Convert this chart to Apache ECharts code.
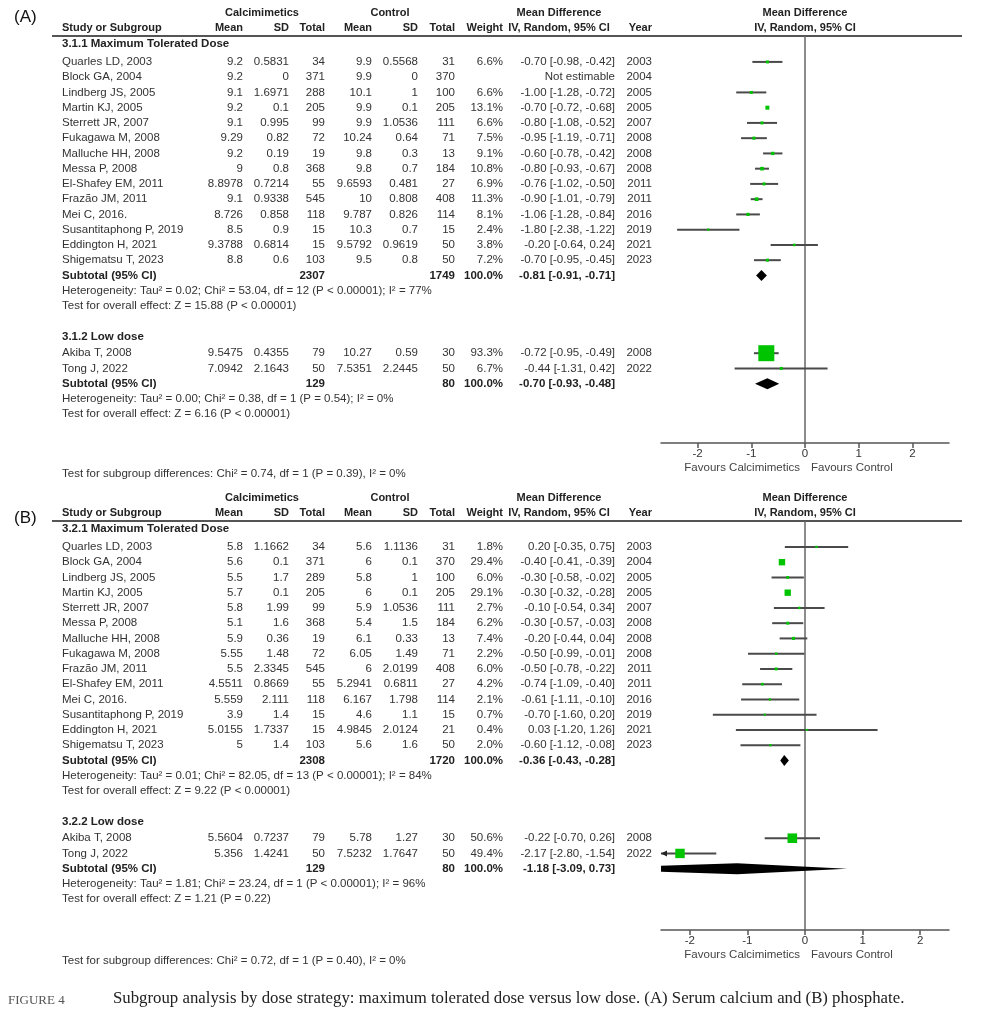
<!DOCTYPE html>
<html><head><meta charset="utf-8">
<script src="https://cdn.jsdelivr.net/npm/echarts@6/dist/echarts.min.js"></script>
<style>html,body{margin:0;padding:0;background:#fff}#c{width:985px;height:1024px}</style>
</head><body><div id="c"></div>
<script>
// ===== Panel A: serum calcium =====
const studyA = ['Quarles LD, 2003','Block GA, 2004','Lindberg JS, 2005','Martin KJ, 2005','Sterrett JR, 2007','Fukagawa M, 2008','Malluche HH, 2008','Messa P, 2008','El-Shafey EM, 2011','Frazão JM, 2011','Mei C, 2016.','Susantitaphong P, 2019','Eddington H, 2021','Shigematsu T, 2023','Akiba T, 2008','Tong J, 2022'];
const groupA = [0,0,0,0,0,0,0,0,0,0,0,0,0,0,1,1];
const calcMeanA = [9.2,9.2,9.1,9.2,9.1,9.29,9.2,9,8.8978,9.1,8.726,8.5,9.3788,8.8,9.5475,7.0942];
const calcSdA = [0.5831,0,1.6971,0.1,0.995,0.82,0.19,0.8,0.7214,0.9338,0.858,0.9,0.6814,0.6,0.4355,2.1643];
const calcNA = [34,371,288,205,99,72,19,368,55,545,118,15,15,103,79,50];
const ctrlMeanA = [9.9,9.9,10.1,9.9,9.9,10.24,9.8,9.8,9.6593,10,9.787,10.3,9.5792,9.5,10.27,7.5351];
const ctrlSdA = [0.5568,0,1,0.1,1.0536,0.64,0.3,0.7,0.481,0.808,0.826,0.7,0.9619,0.8,0.59,2.2445];
const ctrlNA = [31,370,100,205,111,71,13,184,27,408,114,15,50,50,30,50];
const weightA = [6.6,null,6.6,13.1,6.6,7.5,9.1,10.8,6.9,11.3,8.1,2.4,3.8,7.2,93.3,6.7];
const mdA = [-0.70,null,-1.00,-0.70,-0.80,-0.95,-0.60,-0.80,-0.76,-0.90,-1.06,-1.80,-0.20,-0.70,-0.72,-0.44];
const ciLowA = [-0.98,null,-1.28,-0.72,-1.08,-1.19,-0.78,-0.93,-1.02,-1.01,-1.28,-2.38,-0.64,-0.95,-0.95,-1.31];
const ciHighA = [-0.42,null,-0.72,-0.68,-0.52,-0.71,-0.42,-0.67,-0.50,-0.79,-0.84,-1.22,0.24,-0.45,-0.49,0.42];
const yearA = [2003,2004,2005,2005,2007,2008,2008,2008,2011,2011,2016,2019,2021,2023,2008,2022];
const groupTitleA = ['3.1.1 Maximum Tolerated Dose','3.1.2 Low dose'];
const subCalcNA = [2307,129];
const subCtrlNA = [1749,80];
const subMdA = [-0.81,-0.70];
const subLowA = [-0.91,-0.93];
const subHighA = [-0.71,-0.48];
const heteroA = ['Heterogeneity: Tau² = 0.02; Chi² = 53.04, df = 12 (P < 0.00001); I² = 77%','Heterogeneity: Tau² = 0.00; Chi² = 0.38, df = 1 (P = 0.54); I² = 0%'];
const effectA = ['Test for overall effect: Z = 15.88 (P < 0.00001)','Test for overall effect: Z = 6.16 (P < 0.00001)'];
const diffA = 'Test for subgroup differences: Chi² = 0.74, df = 1 (P = 0.39), I² = 0%';

// ===== Panel B: phosphate =====
const studyB = ['Quarles LD, 2003','Block GA, 2004','Lindberg JS, 2005','Martin KJ, 2005','Sterrett JR, 2007','Messa P, 2008','Malluche HH, 2008','Fukagawa M, 2008','Frazão JM, 2011','El-Shafey EM, 2011','Mei C, 2016.','Susantitaphong P, 2019','Eddington H, 2021','Shigematsu T, 2023','Akiba T, 2008','Tong J, 2022'];
const groupB = [0,0,0,0,0,0,0,0,0,0,0,0,0,0,1,1];
const calcMeanB = [5.8,5.6,5.5,5.7,5.8,5.1,5.9,5.55,5.5,4.5511,5.559,3.9,5.0155,5,5.5604,5.356];
const calcSdB = [1.1662,0.1,1.7,0.1,1.99,1.6,0.36,1.48,2.3345,0.8669,2.111,1.4,1.7337,1.4,0.7237,1.4241];
const calcNB = [34,371,289,205,99,368,19,72,545,55,118,15,15,103,79,50];
const ctrlMeanB = [5.6,6,5.8,6,5.9,5.4,6.1,6.05,6,5.2941,6.167,4.6,4.9845,5.6,5.78,7.5232];
const ctrlSdB = [1.1136,0.1,1,0.1,1.0536,1.5,0.33,1.49,2.0199,0.6811,1.798,1.1,2.0124,1.6,1.27,1.7647];
const ctrlNB = [31,370,100,205,111,184,13,71,408,27,114,15,21,50,30,50];
const weightB = [1.8,29.4,6.0,29.1,2.7,6.2,7.4,2.2,6.0,4.2,2.1,0.7,0.4,2.0,50.6,49.4];
const mdB = [0.20,-0.40,-0.30,-0.30,-0.10,-0.30,-0.20,-0.50,-0.50,-0.74,-0.61,-0.70,0.03,-0.60,-0.22,-2.17];
const ciLowB = [-0.35,-0.41,-0.58,-0.32,-0.54,-0.57,-0.44,-0.99,-0.78,-1.09,-1.11,-1.60,-1.20,-1.12,-0.70,-2.80];
const ciHighB = [0.75,-0.39,-0.02,-0.28,0.34,-0.03,0.04,-0.01,-0.22,-0.40,-0.10,0.20,1.26,-0.08,0.26,-1.54];
const yearB = [2003,2004,2005,2005,2007,2008,2008,2008,2011,2011,2016,2019,2021,2023,2008,2022];
const groupTitleB = ['3.2.1 Maximum Tolerated Dose','3.2.2 Low dose'];
const subCalcNB = [2308,129];
const subCtrlNB = [1720,80];
const subMdB = [-0.36,-1.18];
const subLowB = [-0.43,-3.09];
const subHighB = [-0.28,0.73];
const heteroB = ['Heterogeneity: Tau² = 0.01; Chi² = 82.05, df = 13 (P < 0.00001); I² = 84%','Heterogeneity: Tau² = 1.81; Chi² = 23.24, df = 1 (P < 0.00001); I² = 96%'];
const effectB = ['Test for overall effect: Z = 9.22 (P < 0.00001)','Test for overall effect: Z = 1.21 (P = 0.22)'];
const diffB = 'Test for subgroup differences: Chi² = 0.72, df = 1 (P = 0.40), I² = 0%';

const xTicks = [-2,-1,0,1,2];
const headerTop = ['Calcimimetics','Control','Mean Difference','Mean Difference'];
const headerSub = ['Study or Subgroup','Mean','SD','Total','Mean','SD','Total','Weight','IV, Random, 95% CI','Year','IV, Random, 95% CI'];
const favours = ['Favours Calcimimetics','Favours Control'];
const panelLabels = ['(A)','(B)'];
const captionHead = 'FIGURE 4';
const captionText = 'Subgroup analysis by dose strategy: maximum tolerated dose versus low dose. (A) Serum calcium and (B) phosphate.';

// ===== layout =====
const ROW = 15.25;
const FONT = '"Liberation Sans", Arial, sans-serif';
const COL = {name:62, cMean:243, cSd:289, cN:325, kMean:372, kSd:418, kN:455, w:503, ci:615, year:652};
const HC = {calc:262, ctrl:390, md:559};
const GREEN = '#00c400', TXT = '#333', BOLD = '#222', LINE = '#4a4a4a';

const panels = [
  {label:panelLabels[0], labelDy:-1.2, top:36, height:407, xr:2.68,
   study:studyA, group:groupA, cMean:calcMeanA, cSd:calcSdA, cN:calcNA, kMean:ctrlMeanA, kSd:ctrlSdA, kN:ctrlNA,
   w:weightA, md:mdA, lo:ciLowA, hi:ciHighA, year:yearA, titles:groupTitleA, sCN:subCalcNA, sKN:subCtrlNA,
   sMd:subMdA, sLo:subLowA, sHi:subHighA, het:heteroA, eff:effectA, diff:diffA},
  {label:panelLabels[1], labelDy:-0.2, top:521, height:409, xr:2.5,
   study:studyB, group:groupB, cMean:calcMeanB, cSd:calcSdB, cN:calcNB, kMean:ctrlMeanB, kSd:ctrlSdB, kN:ctrlNB,
   w:weightB, md:mdB, lo:ciLowB, hi:ciHighB, year:yearB, titles:groupTitleB, sCN:subCalcNB, sKN:subCtrlNB,
   sMd:subMdB, sLo:subLowB, sHi:subHighB, het:heteroB, eff:effectB, diff:diffB}
];

function buildRows(P) {
  const rows = [{kind:'frame', y:0}, {kind:'header', y:0}];
  let y = 0.5;
  P.titles.forEach((t, gi) => {
    if (gi > 0) y += 2.05;
    rows.push({kind:'title', y, text:t});
    y += gi === 0 ? 1.2 : 1.05;
    P.study.forEach((s, i) => { if (P.group[i] === gi) { rows.push({kind:'study', y, i}); y += 1; } });
    rows.push({kind:'subtotal', y, gi}); y += 1;
    rows.push({kind:'note', y, text:P.het[gi]}); y += 1;
    rows.push({kind:'note', y, text:P.eff[gi]});
  });
  rows.push({kind:'footer', y:0});
  return rows;
}

const f2 = v => v.toFixed(2);
const ciStr = (m, l, h) => f2(m) + ' [' + f2(l) + ', ' + f2(h) + ']';

function makeRender(P, rows) {
  const ymax = P.height / ROW;
  return function (params, api) {
    const r = rows[params.dataIndex];
    const X = v => api.coord([v, 0])[0];
    const Y = v => api.coord([0, v])[1];
    const kids = [];
    const txt = (s, x, y, align, bold, size, color) => kids.push({
      type:'text', silent:true,
      style:{text:String(s), x, y, textAlign:align, align, textVerticalAlign:'middle', verticalAlign:'middle',
        fontFamily:FONT, fontSize:size || 11.5, fontWeight:bold ? 'bold' : 'normal', fill:color || (bold ? BOLD : TXT)}
    });
    const clampX = v => Math.max(-P.xr, Math.min(P.xr, v));
    if (r.kind === 'frame') {
      kids.push({type:'line', shape:{x1:52, y1:Y(0), x2:962, y2:Y(0)}, style:{stroke:'#555', lineWidth:2}});
      kids.push({type:'line', shape:{x1:X(0), y1:Y(0), x2:X(0), y2:Y(ymax)}, style:{stroke:'#666', lineWidth:1.5}});
      txt(P.label, 14, Y(P.labelDy), 'left', false, 17, '#111');
    } else if (r.kind === 'header') {
      const y1 = Y(-1.5), y2 = Y(-0.5);
      txt(headerTop[0], HC.calc, y1, 'center', true, 11);
      txt(headerTop[1], HC.ctrl, y1, 'center', true, 11);
      txt(headerTop[2], HC.md, y1, 'center', true, 11);
      txt(headerTop[3], X(0), y1, 'center', true, 11);
      txt(headerSub[0], COL.name, y2, 'left', true, 11);
      txt(headerSub[1], COL.cMean, y2, 'right', true, 11);
      txt(headerSub[2], COL.cSd, y2, 'right', true, 11);
      txt(headerSub[3], COL.cN, y2, 'right', true, 11);
      txt(headerSub[4], COL.kMean, y2, 'right', true, 11);
      txt(headerSub[5], COL.kSd, y2, 'right', true, 11);
      txt(headerSub[6], COL.kN, y2, 'right', true, 11);
      txt(headerSub[7], COL.w, y2, 'right', true, 11);
      txt(headerSub[8], HC.md, y2, 'center', true, 11);
      txt(headerSub[9], COL.year, y2, 'right', true, 11);
      txt(headerSub[10], X(0), y2, 'center', true, 11);
    } else if (r.kind === 'title') {
      txt(r.text, COL.name, Y(r.y), 'left', true);
    } else if (r.kind === 'note') {
      txt(r.text, COL.name, Y(r.y), 'left', false);
    } else if (r.kind === 'study') {
      const i = r.i, y = Y(r.y);
      txt(P.study[i], COL.name, y, 'left');
      txt(P.cMean[i], COL.cMean, y, 'right');
      txt(P.cSd[i], COL.cSd, y, 'right');
      txt(P.cN[i], COL.cN, y, 'right');
      txt(P.kMean[i], COL.kMean, y, 'right');
      txt(P.kSd[i], COL.kSd, y, 'right');
      txt(P.kN[i], COL.kN, y, 'right');
      if (P.w[i] != null) txt(P.w[i].toFixed(1) + '%', COL.w, y, 'right');
      txt(P.md[i] == null ? 'Not estimable' : ciStr(P.md[i], P.lo[i], P.hi[i]), COL.ci, y, 'right');
      txt(P.year[i], COL.year, y, 'right');
      if (P.md[i] != null) {
        const lo = clampX(P.lo[i]), hi = clampX(P.hi[i]);
        kids.push({type:'line', shape:{x1:X(lo), y1:y, x2:X(hi), y2:y}, style:{stroke:LINE, lineWidth:2}});
        if (P.lo[i] < -P.xr) {
          const ax = X(-P.xr);
          kids.push({type:'polygon', shape:{points:[[ax, y], [ax + 6, y - 3], [ax + 6, y + 3]]}, style:{fill:'#222'}});
        }
        if (P.hi[i] > P.xr) {
          const ax = X(P.xr);
          kids.push({type:'polygon', shape:{points:[[ax, y], [ax - 6, y - 3], [ax - 6, y + 3]]}, style:{fill:'#222'}});
        }
        const s = 2 + 0.15 * P.w[i];
        const cx = X(P.md[i]);
        kids.push({type:'rect', shape:{x:cx - s / 2, y:y - s / 2, width:s, height:s}, style:{fill:GREEN}});
      }
    } else if (r.kind === 'subtotal') {
      const g = r.gi, y = Y(r.y);
      txt('Subtotal (95% CI)', COL.name, y, 'left', true);
      txt(P.sCN[g], COL.cN, y, 'right', true);
      txt(P.sKN[g], COL.kN, y, 'right', true);
      txt('100.0%', COL.w, y, 'right', true);
      txt(ciStr(P.sMd[g], P.sLo[g], P.sHi[g]), COL.ci, y, 'right', true);
      const h = 5.5, m = P.sMd[g], lo = P.sLo[g], hi = P.sHi[g];
      const pts = [];
      if (lo < -P.xr) {
        const f = Math.max(0.55, (-P.xr - lo) / (m - lo));
        pts.push([X(-P.xr), y + h * f], [X(-P.xr), y - h * f]);
      } else pts.push([X(lo), y]);
      pts.push([X(m), y - h]);
      if (hi > P.xr) {
        const f = (hi - P.xr) / (hi - m);
        pts.push([X(P.xr), y - h * f], [X(P.xr), y + h * f]);
      } else pts.push([X(hi), y]);
      pts.push([X(m), y + h]);
      kids.push({type:'polygon', shape:{points:pts}, style:{fill:'#000'}});
    } else if (r.kind === 'footer') {
      txt(P.diff, COL.name, Y(ymax + 2.0), 'left', false);
      txt(favours[0], X(0) - 5, Y(ymax + 1.6), 'right', false, 11.5, '#444');
      txt(favours[1], X(0) + 6, Y(ymax + 1.6), 'left', false, 11.5, '#444');
    }
    return {type:'group', children:kids};
  };
}

const grids = [], xAxes = [], yAxes = [], series = [];
panels.forEach((P, k) => {
  grids.push({left:661, top:P.top, width:288, height:P.height});
  xAxes.push({
    gridIndex:k, type:'value', min:-P.xr, max:P.xr,
    axisLine:{onZero:false, lineStyle:{color:'#555', width:1.5}},
    axisTick:{customValues:xTicks, length:5, lineStyle:{color:'#555', width:1.5}},
    axisLabel:{customValues:xTicks, margin:5, fontSize:11.5, fontFamily:FONT, color:'#333'},
    splitLine:{show:false}
  });
  yAxes.push({gridIndex:k, type:'value', inverse:true, min:0, max:P.height / ROW, show:false});
  const rows = buildRows(P);
  series.push({
    type:'custom', xAxisIndex:k, yAxisIndex:k, clip:false, animation:false,
    data: rows.map(r => [r.kind === 'study' && P.md[r.i] != null ? P.md[r.i] : 0, r.y]),
    encode:{x:0, y:1},
    renderItem: makeRender(P, rows)
  });
});

const chart = echarts.init(document.getElementById('c'), null, {renderer:'canvas'});
chart.setOption({
  animation:false,
  backgroundColor:'#fff',
  grid:grids, xAxis:xAxes, yAxis:yAxes, series,
  graphic:[
    {type:'text', left:8, top:994, style:{text:captionHead, fontFamily:'"Liberation Serif", serif', fontSize:13, fill:'#555'}},
    {type:'text', left:113, top:990, style:{text:captionText, fontFamily:'"Liberation Serif", serif', fontSize:16.8, fill:'#222'}}
  ]
});
</script>
</body></html>
